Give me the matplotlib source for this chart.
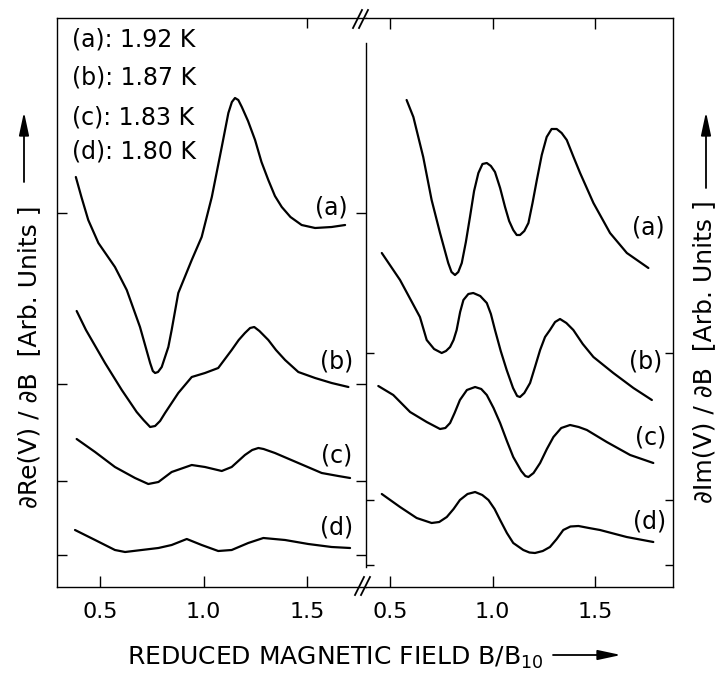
import matplotlib
matplotlib.use("Agg")
import matplotlib.pyplot as plt
from matplotlib.lines import Line2D
from matplotlib.patches import FancyArrowPatch

# ---------------- data (B/B10 , arbitrary units) ----------------
temps = ["1.92 K", "1.87 K", "1.83 K", "1.80 K"]
curve_names = ["(a)", "(b)", "(c)", "(d)"]

# dRe(V)/dB  (left panel)
re_a_x = [0.383, 0.410, 0.443, 0.492, 0.572, 0.629, 0.693, 0.742, 0.755, 0.766, 0.780, 0.798, 0.830,
          0.846, 0.878, 0.943, 0.991, 1.040, 1.088, 1.120, 1.137, 1.152, 1.168, 1.185, 1.215, 1.249,
          1.280, 1.313, 1.345, 1.378, 1.420, 1.474, 1.539, 1.619, 1.684]
re_a_y = [41.0, 39.0, 36.7, 34.4, 32.0, 29.7, 26.0, 22.4, 21.6, 21.4, 21.5, 22.0, 24.0,
          25.7, 29.4, 32.7, 35.0, 39.0, 44.0, 47.4, 48.5, 48.9, 48.7, 48.0, 46.6, 44.7,
          42.5, 40.7, 39.1, 38.0, 37.0, 36.2, 35.9, 36.0, 36.2]

re_b_x = [0.387, 0.432, 0.524, 0.605, 0.677, 0.710, 0.742, 0.766, 0.790, 0.814, 0.878, 0.943, 1.007,
          1.071, 1.136, 1.170, 1.200, 1.225, 1.245, 1.270, 1.313, 1.350, 1.394, 1.458, 1.539, 1.619,
          1.700]
re_b_y = [27.6, 25.7, 22.4, 19.7, 17.5, 16.7, 16.0, 16.1, 16.6, 17.4, 19.4, 21.0, 21.4,
          21.9, 23.7, 24.7, 25.4, 25.9, 26.0, 25.6, 24.7, 23.7, 22.7, 21.5, 20.9, 20.4,
          20.0]

re_c_x = [0.387, 0.476, 0.572, 0.669, 0.733, 0.782, 0.846, 0.943, 1.007, 1.088, 1.136, 1.200, 1.235,
          1.265, 1.290, 1.345, 1.458, 1.571, 1.651, 1.708]
re_c_y = [14.8, 13.5, 12.0, 10.9, 10.3, 10.5, 11.5, 12.2, 12.0, 11.6, 12.0, 13.2, 13.7,
          13.9, 13.8, 13.4, 12.4, 11.4, 11.1, 10.9]

re_d_x = [0.379, 0.476, 0.572, 0.621, 0.701, 0.782, 0.846, 0.919, 0.991, 1.071, 1.136, 1.216, 1.289,
          1.394, 1.506, 1.619, 1.708]
re_d_y = [5.7, 4.7, 3.7, 3.5, 3.7, 3.9, 4.2, 4.8, 4.2, 3.6, 3.7, 4.4, 4.9,
          4.7, 4.3, 4.0, 3.9]

# dIm(V)/dB  (right panel)
im_a_x = [0.581, 0.614, 0.662, 0.703, 0.744, 0.784, 0.800, 0.817, 0.833, 0.850, 0.870, 0.890, 0.910,
          0.931, 0.951, 0.972, 0.992, 1.012, 1.037, 1.061, 1.081, 1.101, 1.118, 1.134, 1.155, 1.175,
          1.195, 1.216, 1.240, 1.264, 1.288, 1.313, 1.337, 1.362, 1.395, 1.427, 1.492, 1.573, 1.655,
          1.760]
im_a_y = [48.7, 47.0, 43.0, 38.7, 35.4, 32.4, 31.5, 31.2, 31.5, 32.4, 34.5, 37.0, 39.6,
          41.4, 42.3, 42.4, 42.1, 41.5, 39.9, 38.0, 36.6, 35.7, 35.2, 35.2, 35.6, 36.4,
          38.4, 40.7, 43.2, 45.0, 45.8, 45.8, 45.4, 44.7, 43.0, 41.4, 38.4, 35.4, 33.4,
          31.9]

im_b_x = [0.460, 0.549, 0.646, 0.679, 0.715, 0.752, 0.773, 0.793, 0.810, 0.825, 0.842, 0.858, 0.882,
          0.906, 0.940, 0.972, 0.992, 1.012, 1.040, 1.069, 1.100, 1.120, 1.134, 1.155, 1.183, 1.207,
          1.232, 1.256, 1.280, 1.305, 1.329, 1.360, 1.394, 1.440, 1.492, 1.589, 1.687, 1.777]
im_b_y = [33.4, 30.7, 27.0, 24.7, 23.8, 23.4, 23.6, 24.0, 24.7, 25.7, 27.5, 28.7, 29.3,
          29.4, 29.1, 28.4, 27.3, 25.7, 23.6, 21.7, 19.9, 19.1, 19.0, 19.4, 20.4, 22.0,
          23.7, 25.0, 25.7, 26.5, 26.8, 26.4, 25.7, 24.3, 23.0, 21.4, 19.9, 18.7]

im_c_x = [0.443, 0.516, 0.598, 0.679, 0.744, 0.770, 0.793, 0.815, 0.841, 0.875, 0.915, 0.945, 0.972,
          1.005, 1.037, 1.070, 1.101, 1.140, 1.160, 1.175, 1.200, 1.232, 1.265, 1.297, 1.335, 1.378,
          1.420, 1.460, 1.557, 1.671, 1.784]
im_c_y = [20.1, 19.2, 17.5, 16.5, 15.8, 15.9, 16.4, 17.4, 18.7, 19.7, 20.0, 19.8, 19.2,
          17.9, 16.4, 14.6, 13.0, 11.6, 11.1, 11.0, 11.4, 12.4, 13.8, 15.0, 15.9, 16.2,
          16.0, 15.7, 14.5, 13.2, 12.4]

im_d_x = [0.460, 0.549, 0.630, 0.703, 0.740, 0.777, 0.810, 0.841, 0.878, 0.915, 0.950, 0.980, 1.010,
          1.037, 1.070, 1.101, 1.150, 1.180, 1.207, 1.245, 1.280, 1.313, 1.345, 1.380, 1.419, 1.470,
          1.524, 1.654, 1.784]
im_d_y = [9.3, 8.0, 6.9, 6.4, 6.5, 7.0, 7.8, 8.7, 9.3, 9.5, 9.2, 8.7, 7.8,
          6.7, 5.4, 4.4, 3.7, 3.45, 3.4, 3.6, 4.0, 4.8, 5.7, 6.05, 6.1, 5.9,
          5.7, 5.0, 4.5]

x_ticks = [0.5, 1.0, 1.5]
x_tick_labels = ["0.5", "1.0", "1.5"]
re_y_ticks = [37.4, 20.3, 10.6, 3.2]
im_y_ticks = [23.4, 8.7, 2.2]

# ---------------- figure ----------------
W, H = 720, 677
plt.rcParams['font.family'] = ['DejaVu Sans']


def fx(px):
    return px / W


def fy(py):
    return 1 - py / H


fig = plt.figure(figsize=(7.2, 6.77), dpi=100)
fig.patch.set_facecolor('white')

ax1 = fig.add_axes([fx(57), fy(587), (366 - 57) / W, (587 - 18) / H])
ax2 = fig.add_axes([fx(366), fy(587), (673 - 366) / W, (587 - 18) / H])

lw = 1.6
for xs, ys in [(re_a_x, re_a_y), (re_b_x, re_b_y), (re_c_x, re_c_y), (re_d_x, re_d_y)]:
    ax1.plot(xs, ys, color='black', lw=lw, solid_joinstyle='round', solid_capstyle='round')
for xs, ys in [(im_a_x, im_a_y), (im_b_x, im_b_y), (im_c_x, im_c_y), (im_d_x, im_d_y)]:
    ax2.plot(xs, ys, color='black', lw=lw, solid_joinstyle='round', solid_capstyle='round')

ax1.set_xlim(0.292, 1.785)
ax2.set_xlim(0.383, 1.880)
for ax in (ax1, ax2):
    ax.set_ylim(0, 56.9)
    ax.set_xticks(x_ticks)
    ax.set_xticklabels(x_tick_labels)
    ax.tick_params(axis='x', direction='in', length=8, width=1.0, labelsize=16, pad=11,
                   bottom=True, top=False)
    for s in ax.spines.values():
        s.set_linewidth(1.0)

# left panel y ticks: inward on both sides, no labels
ax1.set_yticks(re_y_ticks)
ax1.tick_params(axis='y', direction='in', length=7, width=1.0, left=True, right=True,
                labelleft=False, labelright=False)
ax1.spines['right'].set_visible(False)
sec1 = ax1.secondary_xaxis('top')
sec1.set_xticks([1.5])
sec1.tick_params(direction='in', length=7, width=1.0, labeltop=False)
for s in sec1.spines.values():
    s.set_visible(False)

# right panel
ax2.set_yticks(im_y_ticks)
ax2.tick_params(axis='y', direction='in', length=6, width=1.0, left=True, right=True,
                labelleft=False, labelright=False)
ax2.tick_params(axis='x', top=True)
ax2.spines['left'].set_bounds(2.0, 54.4)

# curve labels
lab_left = [(331, 207), (337, 362), (337, 456), (337, 528)]
lab_right = [(648, 228), (646, 362), (651, 437), (650, 522)]
for name, (px, py) in zip(curve_names, lab_left):
    fig.text(fx(px), fy(py), name, fontsize=17, ha='center', va='center')
for name, (px, py) in zip(curve_names, lab_right):
    fig.text(fx(px), fy(py), name, fontsize=17, ha='center', va='center')

# temperature legend
leg_y = [39, 78, 118, 152]
for name, t, py in zip(curve_names, temps, leg_y):
    fig.text(fx(72), fy(py), f"{name}: {t}", fontsize=17, ha='left', va='center')

# axis labels
fig.text(fx(127), fy(658), r"REDUCED MAGNETIC FIELD B/B$_{10}$", fontsize=18,
         ha='left', va='center')
fig.text(fx(29), fy(508), "∂Re(V) / ∂B  [Arb. Units ]", fontsize=18, rotation=90,
         ha='center', va='bottom')
fig.text(fx(704), fy(503), "∂Im(V) / ∂B  [Arb. Units ]", fontsize=18, rotation=90,
         ha='center', va='bottom')

arrow_style = dict(arrowstyle='-|>,head_length=0.7,head_width=0.15', color='black', lw=1.3,
                   mutation_scale=20, shrinkA=0, shrinkB=0)
fig.add_artist(FancyArrowPatch((fx(553), fy(655)), (fx(621), fy(655)),
                               transform=fig.transFigure, **arrow_style))
fig.add_artist(FancyArrowPatch((fx(24), fy(182)), (fx(24), fy(112)),
                               transform=fig.transFigure, **arrow_style))
fig.add_artist(FancyArrowPatch((fx(706), fy(188)), (fx(706), fy(112)),
                               transform=fig.transFigure, **arrow_style))

# axis break marks
for (x0, y0, x1, y1) in [(353, 28, 362, 10), (359, 28, 368, 10),
                         (355, 595, 364, 577), (361, 595, 370, 577)]:
    fig.add_artist(Line2D([fx(x0), fx(x1)], [fy(y0), fy(y1)], transform=fig.transFigure,
                          color='black', lw=1.3))

fig.savefig("out.png", dpi=100, facecolor='white')
